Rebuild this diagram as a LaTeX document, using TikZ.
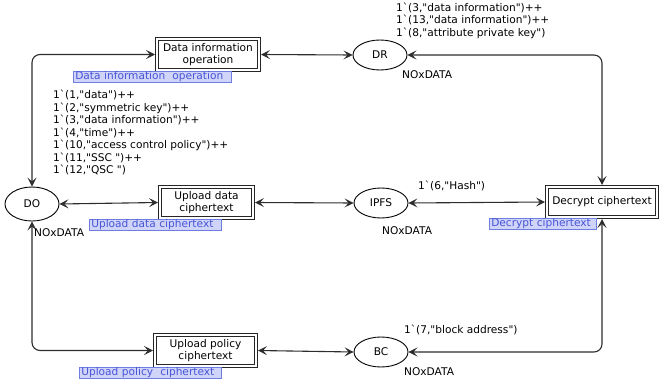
\documentclass[tikz,border=0pt]{standalone}
\usepackage{fontspec}
\setmainfont{DejaVu Sans}[Ligatures=TeXOff]
\usetikzlibrary{arrows.meta,shapes.geometric}
\newcommand{\cpnq}{\textasciigrave}
\definecolor{labfill}{RGB}{208,212,248}
\definecolor{labdraw}{RGB}{110,125,225}
\definecolor{labtext}{RGB}{70,85,215}
\definecolor{arcgray}{RGB}{45,45,45}
\begin{document}
\begin{tikzpicture}[x=1pt,y=-1pt,
  every node/.style={font=\fontsize{10.6}{12.5}\selectfont},
  place/.style={ellipse,draw=black,line width=0.9pt,minimum width=54pt,minimum height=30pt,inner sep=0pt},
  trans/.style={rectangle,draw=black!85,double=white,double distance=2pt,line width=0.9pt,
     align=center,inner sep=1pt,outer sep=1.9pt},
  arc/.style={draw=arcgray,line width=1.1pt,rounded corners=8pt,
     {Stealth[length=9pt,width=9pt,inset=4pt]}-{Stealth[length=9pt,width=9pt,inset=4pt]}},
  bluelab/.style={draw=labdraw,fill=labfill,text=labtext,line width=0.6pt,anchor=west,
     inner xsep=2pt,inner ysep=0pt,minimum height=11pt,align=left},
  marking/.style={anchor=west,inner sep=0pt,align=left},
  colset/.style={anchor=west,inner sep=0pt}
]
\useasboundingbox (0,0) rectangle (659,383);

% places
\node[place,minimum height=34pt] (DO) at (32,204) {DO};
\node[place] (DR) at (380,55) {DR};
\node[place] (IPFS) at (381,203) {IPFS};
\node[place] (BC) at (381,352) {BC};

% transitions
\node[trans,minimum width=102.2pt,minimum height=31.2pt] (DI) at (208,54.5) {Data information\\operation};
\node[trans,minimum width=93.2pt,minimum height=31.2pt] (UD) at (206.5,202.5) {Upload data\\ciphertext};
\node[trans,minimum width=101.2pt,minimum height=31.2pt] (UP) at (205.5,350.5) {Upload policy\\ciphertext};
\node[trans,minimum width=110.2pt,minimum height=30.2pt] (DC) at (602,202) {Decrypt ciphertext};

% arcs
\draw[arc] (DO.north) |- (DI.west);
\draw[arc] (DI.east) -- (DR.west);
\draw[arc] (DR.east) -| (DC.north);
\draw[arc] (DO.east) -- (UD.west);
\draw[arc] (UD.east) -- (IPFS.west);
\draw[arc] (IPFS.east) -- (DC.west);
\draw[arc] (DO.south) |- (UP.west);
\draw[arc] (UP.east) -- (BC.west);
\draw[arc] (BC.east) -| (DC.south);

% transition name labels
\node[bluelab,text width=154pt] (DIlab) at (73,76.5) {Data information\ \ operation};
\node[bluelab,text width=128pt] (UDlab) at (89,224.5) {Upload data ciphertext};
\node[bluelab,text width=138pt] (UPlab) at (79,373) {Upload policy\ \ ciphertext};
\node[bluelab,text width=103pt] (DClab) at (489,224) {Decrypt ciphertext};

% colour sets
\node[colset] (DOcs) at (34,233) {NOxDATA};
\node[colset] (IPFScs) at (382,231) {NOxDATA};
\node[colset] (DRcs) at (402,75) {NOxDATA};
\node[colset] (BCcs) at (404,372) {NOxDATA};

% initial markings
\node[marking] (DOm) at (53,132.5) {1\cpnq(1,"data")++\\
1\cpnq(2,"symmetric key")++\\
1\cpnq(3,"data information")++\\
1\cpnq(4,"time")++\\
1\cpnq(10,"access control policy")++\\
1\cpnq(11,"SSC ")++\\
1\cpnq(12,"QSC ")};
\node[marking] (DRm) at (396,20.5) {1\cpnq(3,"data information")++\\
1\cpnq(13,"data information")++\\
1\cpnq(8,"attribute private key")};
\node[marking] (IPFSm) at (418,186) {1\cpnq(6,"Hash")};
\node[marking] (BCm) at (404,330) {1\cpnq(7,"block address")};
\end{tikzpicture}
\end{document}
